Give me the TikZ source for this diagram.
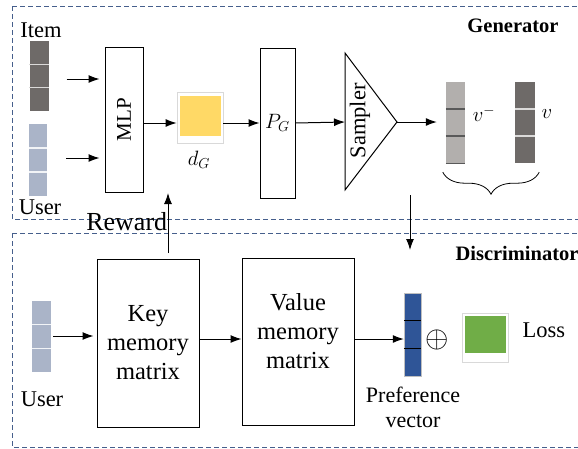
\documentclass[tikz,border=0pt]{standalone}
\usepackage{fontspec}
\setmainfont{Liberation Serif}
\usetikzlibrary{
  calc,
  arrows.meta,
  decorations.pathreplacing
}
\definecolor{framing}{RGB}{70,95,140}
\definecolor{itemgray}{RGB}{110,106,104}
\definecolor{usergray}{RGB}{170,180,200}
\definecolor{neggray}{RGB}{178,175,173}
\definecolor{prefblue}{RGB}{47,85,151}
\definecolor{dgyellow}{RGB}{255,217,102}
\definecolor{lossgreen}{RGB}{112,173,71}

\begin{document}
\begin{tikzpicture}[
  x=1pt,
  y=-1pt,
  every node/.style={
    font=\fontsize{22.5}{26}\selectfont
  },
  panel/.style={
    draw=framing,
    line width=1pt,
    dash pattern=on 5pt off 3pt
  },
  block/.style={
    draw,
    rectangle,
    line width=1pt,
    inner sep=0pt,
    align=center,
    font=\fontsize{24.5}{29}\selectfont
  },
  vec/.style={
    draw=none,
    rectangle,
    minimum width=19pt,
    inner sep=0pt
  },
  patch/.style={
    draw=black!15,
    fill=white,
    line width=0.8pt,
    inner sep=0pt
  },
  title/.style={
    font=\fontsize{20.5}{24}\selectfont\bfseries
  },
  link/.style={
    ->,
    line width=1pt
  },
  >={Latex[length=11pt,width=8pt]}
]

\useasboundingbox (0,0) rectangle (578,448);

% Panels
\draw[panel] (12,6) -- (12,219) -- (590,219);
\draw[panel] (12,6) -- (590,6);
\draw[panel] (12,233) -- (12,447) -- (590,447);
\draw[panel] (12,233) -- (590,233);
\node[title] (gen) at (513,26) {Generator};
\node[title,anchor=west] (disc) at (452,253) {Discriminator};

% Generator
\node[vec,fill=itemgray,minimum height=70pt] (item) at (39,76) {};
\node (itemlbl) at (41,30) {Item};
\node[vec,fill=usergray,minimum height=72pt,minimum width=18pt] (user) at (38,160) {};
\node (userlbl) at (40,207) {User};
\node[block,minimum width=38pt,minimum height=145pt,font=\fontsize{21}{26}\selectfont] (mlp) at (124,119.5)
  {\rotatebox{90}{MLP}};
\node[patch,minimum width=46pt,minimum height=51pt] (dG) at (200,117.5) {};
\node[fill=dgyellow,minimum width=41pt,minimum height=40pt,inner sep=0pt] (dGin) at (200.5,116) {};
\node (dGlbl) at (199,160) {$d_G$};
\node[block,minimum width=35pt,minimum height=150pt,font=\fontsize{22}{26}\selectfont] (pg) at (277.5,123) {$P_G$};
\coordinate (smpin) at (345,122);
\coordinate (smpout) at (397,122);
\draw[line width=1pt] (345,53) -- (smpout) -- (345,190) -- cycle;
\node[rotate=90] (smp) at (360,121) {Sampler};
\node[vec,fill=neggray,minimum height=81pt] (vneg) at (455.5,122.5) {};
\node (vneglbl) at (484,114) {$v^-$};
\node[vec,fill=itemgray,minimum height=81pt,minimum width=20pt] (vpos) at (525,122.5) {};
\node (vposlbl) at (547,114) {$v$};

% Discriminator
\node[vec,fill=usergray,minimum height=71pt] (duser) at (41.5,336.5) {};
\node (duserlbl) at (42,399) {User};
\node[block,minimum width=102pt,minimum height=168pt] (key) at (148,343)
  {Key\\memory\\matrix};
\node[block,minimum width=112pt,minimum height=167pt] (value) at (298,341.5)
  {Value\\memory\\matrix\\[-7pt]};
\node[vec,draw=black!25,fill=prefblue,minimum width=17pt,minimum height=83pt] (pref) at (412.5,334.5) {};
\node[align=center,font=\fontsize{22}{25}\selectfont] (preflbl) at (413,407) {Preference\\vector};
\node (plus) at (437,340) {\scalebox{1.45}{$\oplus$}};
\node[patch,minimum width=46pt,minimum height=49pt] (loss) at (485,337.5) {};
\node[fill=lossgreen,minimum width=41pt,minimum height=37pt,inner sep=0pt] (lossin) at (485.5,334.5) {};
\node[anchor=west] (losslbl) at (519,330) {Loss};

% Cell borders
\foreach \v/\c in {item/white!75!itemgray,user/white!85!usergray,vpos/white!75!itemgray,
                   duser/white!85!usergray,vneg/black!65,pref/black}
  \foreach \k in {1,2}
    \draw[\c,line width=1.2pt]
      ($(\v.north west)!\k/3!(\v.south west)$) -- ($(\v.north east)!\k/3!(\v.south east)$);
\draw[black!65,line width=1.2pt] (vneg.south west) -- (vneg.south east);

% Arrows generator
\draw[link] ([xshift=18pt]item.east |- 0,79) -- ([xshift=-5pt]mlp.west |- 0,79);
\draw[link] ([xshift=19pt]user.east |- 0,158) -- ([xshift=-5pt]mlp.west |- 0,158);
\draw[link] (mlp.east |- pg) -- (dG.west |- pg);
\draw[link] (dG.east |- pg) -- (pg.west);
\draw[link] (pg.east) -- (smpin);
\draw[link] (smpout) -- ([xshift=-9pt]vneg.west |- smpout);

% Brace
\draw[decorate,decoration={brace,mirror,amplitude=22pt},line width=0.8pt]
  ([xshift=-3pt,yshift=-9pt]vneg.south west) -- ([xshift=4pt,yshift=-9pt]vpos.south east);

% Arrows between panels
\coordinate (fbtop) at (410,195);
\coordinate (fbend) at (410,250);
\draw[link] (fbtop) -- (fbend);
\coordinate (rwbot) at (168,253);
\coordinate (rwtop) at (168,193);
\draw[link] (rwbot) -- node[pos=0.53,left=-3pt,font=\fontsize{26}{28}\selectfont] (reward) {Reward} (rwtop);

% Arrows discriminator
\draw[link] ([xshift=2pt]duser.east |- 0,336) -- ([xshift=-3pt]key.west |- 0,336);
\draw[link] (key.east |- 0,339) -- (value.west |- 0,339);
\draw[link] (value.east |- 0,339) -- (pref.west |- 0,339);

\end{tikzpicture}
\end{document}
